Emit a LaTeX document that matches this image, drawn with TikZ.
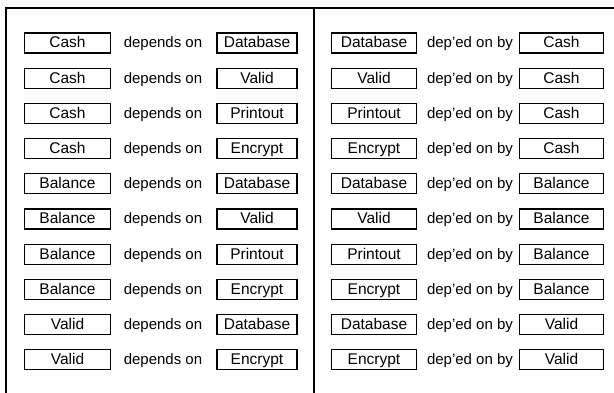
\documentclass[tikz,border=0pt]{standalone}
\usepackage{fontspec}
\setmainfont{Liberation Sans}
\begin{document}
\begin{tikzpicture}[x=1pt,y=-1pt,
  frameline/.style={line width=1.4pt},
  itembox/.style={draw, line width=1.2pt, minimum height=20pt, inner sep=0pt, text height=11pt, text depth=1pt, font=\fontsize{15.5}{17}\selectfont},
  reltext/.style={inner sep=0pt, text height=11pt, text depth=1pt, font=\fontsize{15}{17}\selectfont}]
\useasboundingbox (0,0) rectangle (614,393);
\coordinate (tl) at (6,8);
\coordinate (tr) at (614,8);
\coordinate (bl) at (6,393);
\coordinate (dt) at (314,8);
\coordinate (db) at (314,393);
\draw[frameline] (bl) -- (tl) -- (tr);
\draw[frameline] (dt) -- (db);
\foreach \a/\b [count=\i] in {Cash/Database, Cash/Valid, Cash/Printout, Cash/Encrypt,
  Balance/Database, Balance/Valid, Balance/Printout, Balance/Encrypt,
  Valid/Database, Valid/Encrypt}{
  \pgfmathsetmacro{\yy}{43+35.2*(\i-1)}
  \node[itembox, minimum width=86pt] (la\i) at (67.5,\yy) {\a};
  \node[reltext] (lt\i) at (163,\yy) {depends on};
  \node[itembox, minimum width=80pt] (lb\i) at (257,\yy) {\b};
  \node[itembox, minimum width=85pt] (ra\i) at (374,\yy) {\b};
  \node[reltext] (rt\i) at (470,\yy) {dep'ed on by};
  \node[itembox, minimum width=84pt] (rb\i) at (561.5,\yy) {\a};
}
\end{tikzpicture}
\end{document}
